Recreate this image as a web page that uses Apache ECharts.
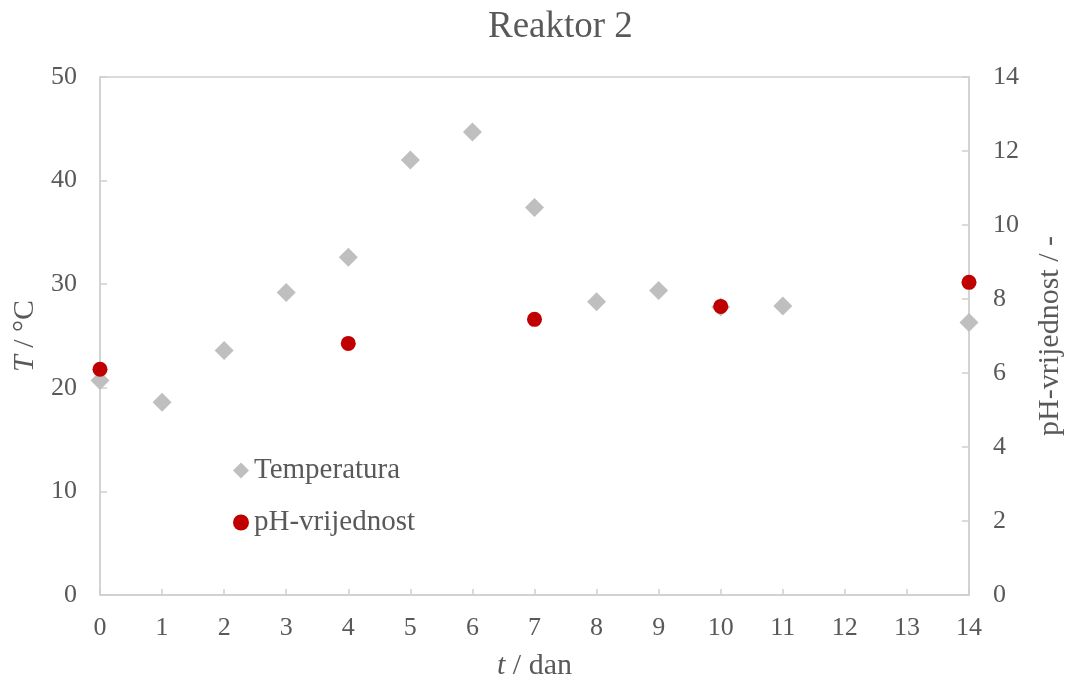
<!DOCTYPE html>
<html><head><meta charset="utf-8">
<script src="https://cdn.jsdelivr.net/npm/echarts@6/dist/echarts.min.js"></script>
<style>html,body{margin:0;padding:0;background:#fff}#c{width:1066px;height:683px}</style>
</head><body><div id="c"></div>
<script>
const tempDays = [0, 1, 2, 3, 4, 5, 6, 7, 8, 9, 10, 11, 14];
const tempValues = [20.7, 18.6, 23.6, 29.2, 32.6, 42.0, 44.7, 37.4, 28.3, 29.4, 27.8, 27.9, 26.3];
const phDays = [0, 4, 7, 10, 14];
const phValues = [6.1, 6.8, 7.45, 7.8, 8.45];
const seriesNames = ['Temperatura', 'pH-vrijednost'];
const titleText = 'Reaktor 2';

const font = '"Liberation Serif", "Times New Roman", serif';
const txt = '#595959';
const axisC = '#d0d0d0';
const chart = echarts.init(document.getElementById('c'));
chart.setOption({
  animation: false,
  backgroundColor: '#fff',
  title: { text: titleText, left: 483, top: 4, textStyle: { fontFamily: font, fontSize: 37, fontWeight: 'normal', color: txt } },
  grid: { left: 100, right: 97, top: 77, bottom: 88, outerBoundsMode: 'none', containLabel: false, show: true, borderColor: axisC, borderWidth: 1.5, backgroundColor: 'transparent' },
  legend: {
    orient: 'vertical', left: 228, top: 451, itemGap: 23, itemWidth: 16, itemHeight: 16,
    textStyle: { fontFamily: font, fontSize: 29, color: txt },
    data: [
      { name: seriesNames[0], icon: 'diamond', itemStyle: { color: '#bfbfbf', opacity: 1 } },
      { name: seriesNames[1], icon: 'circle', itemStyle: { color: '#c00000', opacity: 1 } }
    ]
  },
  xAxis: {
    type: 'value', min: 0, max: 14, interval: 1,
    name: '{i|t} / dan', nameLocation: 'middle', nameGap: 56,
    nameTextStyle: { fontFamily: font, fontSize: 30, color: txt, rich: { i: { fontFamily: font, fontSize: 30, fontStyle: 'italic', color: txt } } },
    axisLine: { lineStyle: { color: axisC, width: 1.5 } },
    axisTick: { inside: true, length: 6, lineStyle: { color: axisC, width: 1.5 } },
    axisLabel: { fontFamily: font, fontSize: 26, color: txt, margin: 20 },
    splitLine: { show: false }
  },
  yAxis: [
    {
      type: 'value', min: 0, max: 50, interval: 10, position: 'left',
      name: '{i|T} / °C', nameLocation: 'middle', nameGap: 60,
      nameTextStyle: { fontFamily: font, fontSize: 30, color: txt, rich: { i: { fontFamily: font, fontSize: 30, fontStyle: 'italic', color: txt } } },
      axisLine: { show: true, lineStyle: { color: axisC, width: 1.5 } },
      axisTick: { show: true, inside: true, length: 7, lineStyle: { color: axisC, width: 1.5 } },
      axisLabel: { fontFamily: font, fontSize: 26, color: txt, margin: 23 },
      splitLine: { show: false }
    },
    {
      type: 'value', min: 0, max: 14, interval: 2, position: 'right',
      name: 'pH-vrijednost / -', nameLocation: 'middle', nameGap: 66,
      nameTextStyle: { fontFamily: font, fontSize: 30, color: txt },
      axisLine: { show: true, lineStyle: { color: axisC, width: 1.5 } },
      axisTick: { show: true, inside: true, length: 7, lineStyle: { color: axisC, width: 1.5 } },
      axisLabel: { fontFamily: font, fontSize: 26, color: txt, margin: 24 },
      splitLine: { show: false }
    }
  ],
  series: [
    {
      name: seriesNames[0], type: 'scatter', yAxisIndex: 0, symbol: 'diamond', symbolSize: 19,
      itemStyle: { color: '#bfbfbf', opacity: 1 },
      data: tempDays.map((d, i) => [d, tempValues[i]])
    },
    {
      name: seriesNames[1], type: 'scatter', yAxisIndex: 1, symbol: 'circle', symbolSize: 15,
      itemStyle: { color: '#c00000', opacity: 1 },
      data: phDays.map((d, i) => [d, phValues[i]])
    }
  ]
});
</script></body></html>
